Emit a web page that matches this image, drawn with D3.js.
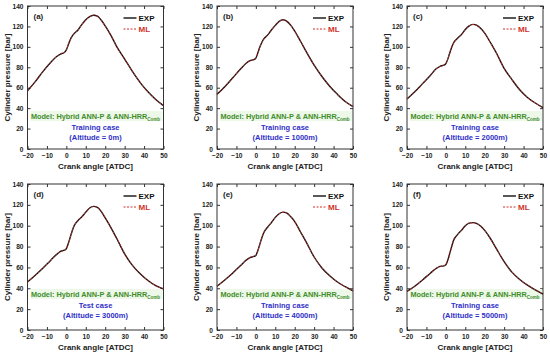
<!DOCTYPE html>
<html>
<head>
<meta charset="utf-8">
<script src="https://cdn.jsdelivr.net/npm/d3@7"></script>
<style>
  body { margin: 0; background: #fff; }
  svg { font-family: "Liberation Sans", Arial, sans-serif; }
  .tick text { font-weight: bold; font-size: 6.6px; fill: #222; }
</style>
</head>
<body>
<script>
// crank angle grid shared by all panels [deg ATDC]
var angles = [-20,-16,-12,-8,-5,-3,-1,0,1,2,3,4,6,8,10,12,14,16,18,20,23,26,30,34,38,42,46,50];

// measured cylinder pressure [bar]
var expA = [57,66,76,85,90.5,93,94.5,97,102,107,110.5,113,116.5,122,126.5,129.5,131,130,126,120.5,111,100,88,76,65,56,48.5,42.5];
var expB = [53.5,61,69.5,78,84,86.5,87.5,89,94,99.5,104,107.5,111.5,116.5,121,125,126.5,125,121,115.5,105.5,95,82,71,61.5,53.5,46.5,41.5];
var expC = [49,56,64,72,78.5,81,82,83.5,88,94,99.5,104,108.5,112,117,120.5,122,121,118,113.5,104,94,79,68,58,50.5,45,40.5];
var expD = [46,52.5,59.5,67,72.5,75.5,76.5,78,83,89,95,100,105,108.5,113,117,118.5,117.5,113.5,107.5,98,87.5,73,62,54,47.5,42.5,39.5];
var expE = [42,48,54.5,61.5,67,69.5,70.5,71.5,76,82,88,93,98.5,103,108,111.5,113,112,108.5,104,94,84,70,59.5,52,46,41.5,37.5];
var expF = [37,42,48,54.5,59,61,61.5,62.5,67,73.5,80,86,91.5,95.5,100,102.5,103,102,99.5,95.5,87.5,78,65.5,55.5,48.5,43,38.5,34.5];

// ML predicted pressure [bar]
var mlA = [57.2,66,75.8,85,90.6,93.2,94.4,97.2,102.3,106.8,110.6,113.4,116.3,122.1,126.4,129.6,131.1,129.8,126.2,120.3,111.2,99.8,88.2,75.9,65.1,55.9,48.6,42.4];
var mlB = [53.4,61.1,69.4,78.1,84.1,86.4,87.6,89.2,93.8,99.7,104.2,107.3,111.7,116.4,121.2,124.9,126.4,125.1,120.8,115.6,105.4,95.2,81.9,71.1,61.4,53.6,46.4,41.6];
var mlC = [49.1,55.9,64.1,71.9,78.6,80.9,82.1,83.6,88.2,93.8,99.6,103.8,108.6,112.2,116.8,120.6,121.9,121.1,117.9,113.6,103.9,94.1,78.9,68.1,58.1,50.4,45.1,40.4];
var mlD = [46.1,52.4,59.6,66.9,72.6,75.4,76.6,78.2,83.2,88.8,95.2,99.8,105.2,108.3,113.2,116.8,118.4,117.6,113.4,107.6,97.9,87.6,72.9,62.1,53.9,47.6,42.4,39.6];
var mlE = [42.1,47.9,54.6,61.4,67.1,69.4,70.6,71.7,75.8,82.2,87.8,93.2,98.3,103.2,107.8,111.6,112.9,112.1,108.4,104.1,93.9,84.1,69.9,59.6,51.9,46.1,41.4,37.6];
var mlF = [37.1,41.9,48.1,54.4,59.1,60.9,61.6,62.7,66.8,73.7,79.8,86.2,91.3,95.7,99.8,102.6,102.9,102.1,99.4,95.6,87.4,78.1,65.4,55.6,48.4,43.1,38.4,34.6];

var panelLabels = ["(a)","(b)","(c)","(d)","(e)","(f)"];
var caseLabels = ["Training case","Training case","Training case","Test case","Training case","Training case"];
var altitudeLabels = ["(Altitude = 0m)","(Altitude = 1000m)","(Altitude = 2000m)","(Altitude = 3000m)","(Altitude = 4000m)","(Altitude = 5000m)"];
var expSeries = [expA, expB, expC, expD, expE, expF];
var mlSeries = [mlA, mlB, mlC, mlD, mlE, mlF];

var xTicks = [-20,-10,0,10,20,30,40,50];
var yTicks = [0,20,40,60,80,100,120,140];

var colLeft = [27.5, 217, 407];
var rowTop = [6, 184];
var rowH = [143, 146];
var plotW = 136;

var svg = d3.select("body").append("svg")
  .attr("width", 550)
  .attr("height", 352);

panelLabels.forEach(function(lab, i) {
  var col = i % 3, row = Math.floor(i / 3);
  var w = plotW, h = rowH[row];
  var g = svg.append("g")
    .attr("transform", "translate(" + colLeft[col] + "," + rowTop[row] + ")");

  var x = d3.scaleLinear().domain([-20, 50]).range([0, w]);
  var y = d3.scaleLinear().domain([0, 140]).range([h, 0]);

  // axes with inward ticks
  g.append("g").attr("transform", "translate(0," + h + ")")
    .call(d3.axisBottom(x).tickValues(xTicks).tickSize(-3).tickSizeOuter(0).tickPadding(4)
      .tickFormat(function(d) { return d < 0 ? "\u2212" + Math.abs(d) : d; }));
  g.append("g")
    .call(d3.axisLeft(y).tickValues(yTicks).tickSize(-3).tickSizeOuter(0).tickPadding(4));
  g.append("g")
    .call(d3.axisTop(x).tickValues(xTicks).tickSize(-3).tickSizeOuter(0).tickFormat(""));
  g.append("g").attr("transform", "translate(" + w + ",0)")
    .call(d3.axisRight(y).tickValues(yTicks).tickSize(-3).tickSizeOuter(0).tickFormat(""));
  g.selectAll(".domain").remove();
  g.selectAll(".tick line").attr("stroke", "#333");

  g.append("rect")
    .attr("width", w).attr("height", h)
    .attr("fill", "none").attr("stroke", "#333").attr("stroke-width", 1);

  // annotation box
  var midX = w / 2;
  g.append("rect")
    .attr("x", 3).attr("y", 105).attr("width", w - 4).attr("height", 10)
    .attr("fill", "#eef8e9");
  var mt = g.append("text")
    .attr("x", midX).attr("y", 113)
    .attr("text-anchor", "middle")
    .attr("font-size", 7.3).attr("font-weight", "bold")
    .attr("fill", "#3f8d2b");
  mt.append("tspan").text("Model: Hybrid ANN-P & ANN-HRR");
  mt.append("tspan").attr("font-size", 4.5).attr("dy", 2).text("Comb");

  g.append("text")
    .attr("x", midX).attr("y", 124)
    .attr("text-anchor", "middle")
    .attr("font-size", 7.5).attr("font-weight", "bold")
    .attr("fill", "#2f2fc8")
    .text(caseLabels[i]);
  g.append("text")
    .attr("x", midX).attr("y", 133.5)
    .attr("text-anchor", "middle")
    .attr("font-size", 7.5).attr("font-weight", "bold")
    .attr("fill", "#2f2fc8")
    .text(altitudeLabels[i]);

  // curves
  var line = d3.line()
    .x(function(d, k) { return x(angles[k]); })
    .y(function(d) { return y(d); })
    .curve(d3.curveMonotoneX);

  g.append("path").datum(expSeries[i])
    .attr("d", line)
    .attr("fill", "none").attr("stroke", "#111").attr("stroke-width", 1.4);
  g.append("path").datum(mlSeries[i])
    .attr("d", line)
    .attr("fill", "none").attr("stroke", "#d03028").attr("stroke-width", 0.9)
    .attr("stroke-dasharray", "2,1.5");

  // panel letter
  g.append("text")
    .attr("x", 6).attr("y", 13)
    .attr("font-size", 8).attr("font-weight", "bold").attr("fill", "#222")
    .text(lab);

  // legend
  g.append("line")
    .attr("x1", w - 40).attr("x2", w - 27).attr("y1", 12).attr("y2", 12)
    .attr("stroke", "#111").attr("stroke-width", 1.4);
  g.append("text")
    .attr("x", w - 25).attr("y", 15)
    .attr("font-size", 8).attr("font-weight", "bold").attr("fill", "#111")
    .text("EXP");
  g.append("line")
    .attr("x1", w - 40).attr("x2", w - 27).attr("y1", 23).attr("y2", 23)
    .attr("stroke", "#d03028").attr("stroke-width", 1).attr("stroke-dasharray", "2,1.5");
  g.append("text")
    .attr("x", w - 25).attr("y", 26)
    .attr("font-size", 8).attr("font-weight", "bold").attr("fill", "#d03028")
    .text("ML");

  // axis titles
  g.append("text")
    .attr("x", w / 2).attr("y", h + 20)
    .attr("text-anchor", "middle")
    .attr("font-size", 8).attr("font-weight", "bold").attr("fill", "#222")
    .text("Crank angle [ATDC]");
  g.append("text")
    .attr("transform", "translate(-18," + (h / 2) + ") rotate(-90)")
    .attr("text-anchor", "middle")
    .attr("font-size", 8).attr("font-weight", "bold").attr("fill", "#222")
    .text("Cylinder pressure [bar]");
});
</script>
</body>
</html>
